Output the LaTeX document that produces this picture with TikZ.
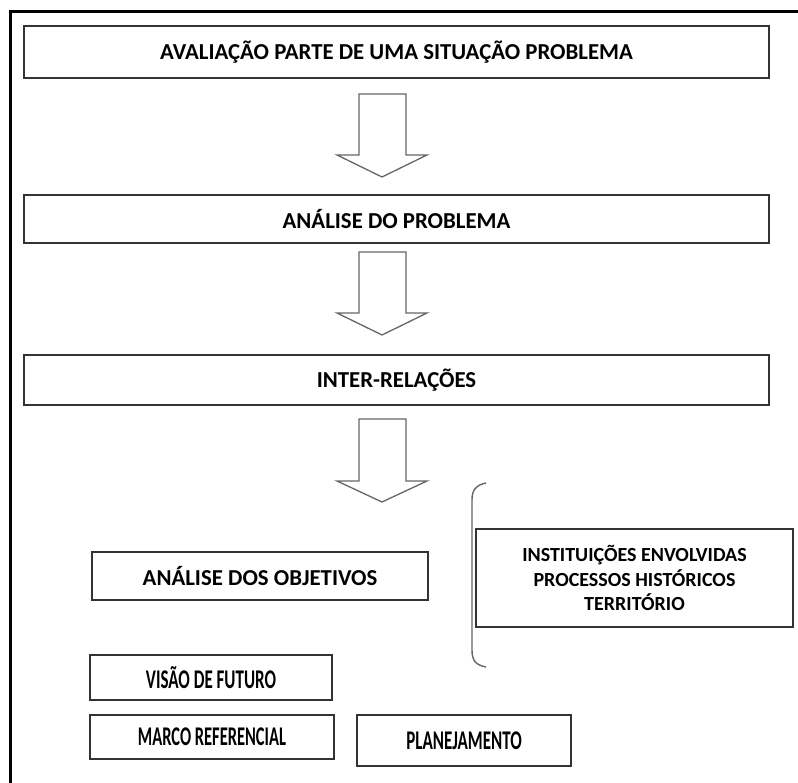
\documentclass[tikz,border=0pt]{standalone}
\usepackage{fontspec}
\setmainfont{Carlito}
\usepackage{graphicx}
\begin{document}
\begin{tikzpicture}[x=1pt,y=-1pt,
  box/.style={draw=black!80, line width=1.6pt, fill=white, inner sep=0pt, text=black,
    font=\bfseries\fontsize{22.8}{26}\selectfont},
  smallbox/.style={box, align=center, font=\bfseries\fontsize{20}{24.5}\selectfont},
  barrow/.style={draw=black!60, line width=1.3pt, fill=white, line join=miter},
  bracket/.style={draw=black!60, line width=1.4pt},
  frame/.style={draw=black, line width=3pt}]
\useasboundingbox (0,0) rectangle (798,783);
\draw[frame] (10,783) -- (10,12) -- (798,12);

\node[box, minimum width=745pt, minimum height=52pt] (b1) at (396.5,52) {AVALIAÇÃO PARTE DE UMA SITUAÇÃO PROBLEMA};
\node[box, minimum width=745pt, minimum height=48pt] (b2) at (396.5,219) {ANÁLISE DO PROBLEMA};
\node[box, minimum width=745pt, minimum height=50pt] (b3) at (396.5,380) {INTER-RELAÇÕES};
\node[box, minimum width=336pt, minimum height=48pt] (obj) at (260,576) {ANÁLISE DOS OBJETIVOS};
\node[smallbox, minimum width=317pt, minimum height=98pt] (inst) at (634.5,578) {INSTITUIÇÕES ENVOLVIDAS\\PROCESSOS HISTÓRICOS\\TERRITÓRIO};
\node[box, minimum width=242pt, minimum height=45pt] (vis) at (211,677.5) {\scalebox{0.63}[1]{\fontsize{27}{30}\selectfont VISÃO DE FUTURO}};
\node[box, minimum width=244pt, minimum height=44pt] (mar) at (212,737) {\scalebox{0.61}[1]{\fontsize{27}{30}\selectfont MARCO REFERENCIAL}};
\node[box, minimum width=214pt, minimum height=51pt] (pla) at (464,740.5) {\scalebox{0.63}[1]{\fontsize{27}{30}\selectfont PLANEJAMENTO}};

% block arrows
\draw[barrow] (359,94) -- (406,94) -- (406,155) -- (427,155) -- (382,177) -- (337,155) -- (359,155) -- cycle;
\draw[barrow] (359,252) -- (406,252) -- (406,313) -- (427,313) -- (382,335) -- (337,313) -- (359,313) -- cycle;
\draw[barrow] (359,419) -- (406,419) -- (406,481) -- (427,481) -- (382,502) -- (337,481) -- (359,481) -- cycle;

% bracket
\draw[bracket] (486,483) .. controls (476,485) and (472,490) .. (472,500) -- (472,650) .. controls (472,661) and (476,665) .. (486,667);
\end{tikzpicture}
\end{document}
